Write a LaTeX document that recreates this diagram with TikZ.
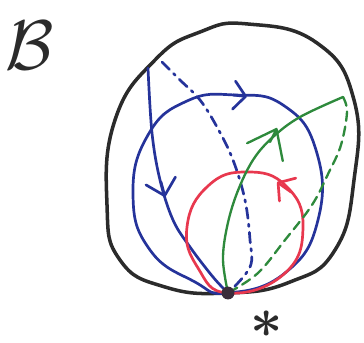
\documentclass[tikz,border=0pt]{standalone}
\usepackage{amsmath}
\usepackage{tikz}
\usetikzlibrary{arrows.meta}
\definecolor{Ink}{HTML}{2B2B2B}
\definecolor{Navy}{HTML}{25339A}
\definecolor{Rose}{HTML}{E8384E}
\definecolor{Leaf}{HTML}{2E8A3C}
\definecolor{Plum}{HTML}{3B2D3B}
\tikzset{rim/.style={draw=Ink,line width=3pt,line join=round},pen/.style={line width=2.3pt,line cap=round,line join=round},dashdot/.style={pen,dash pattern=on 9pt off 5pt on 2pt off 5pt},greendash/.style={pen,line width=2pt,dash pattern=on 8pt off 5pt},barb/.style={pen,-{Straight Barb[length=10pt,width=24pt,round]}},point/.style={circle,fill=Plum,minimum size=11pt,inner sep=0pt}}
\begin{document}
\begin{tikzpicture}[x=0.03cm,y=-0.03cm]
      \useasboundingbox (0,0) rectangle (364,343);
      \coordinate (o) at (228,293);
      \node[scale=6,text=Ink] (name) at (30,45) {$\mathcal{B}$};
      % outer boundary
      \draw[rim] plot[smooth cycle,tension=.8] coordinates{(248,24) (317,43) (354,100) (354,180) (335,250) (290,282) (o) (165,287) (120,260) (107,205) (115,120) (155,60) (200,32)};
      % blue loop and path
      \draw[pen,Navy] plot[smooth cycle,tension=.8] coordinates{(o) (285,273) (318,220) (316,150) (283,105) (235,95) (187,101) (148,135) (133,195) (150,250) (195,282)};
      \draw[pen,Navy] plot[smooth,tension=.6] coordinates{(148,68) (152,133) (160,180) (173,220) (190,247) (213,277) (o)};
      \draw[dashdot,Navy] plot[smooth,tension=.6] coordinates{(162,62) (180,80) (200,100) (217,127) (233,160) (245,200) (250,240) (250,267) (o)};
      % red loop
      \draw[pen,Rose] plot[smooth cycle,tension=.8] coordinates{(o) (284,274) (303,227) (286,186) (247,172) (208,186) (187,227) (198,268)};
      % green path
      \draw[pen,line width=2pt,Leaf] plot[smooth,tension=.6] coordinates{(o) (223,260) (227,227) (237,193) (253,160) (273,137) (300,117) (343,97)};
      \draw[greendash,Leaf] plot[smooth,tension=.6] coordinates{(343,97) (347,112) (341,145) (329,172) (312,205) (285,240) (258,273) (o)};
      % arrows
      \draw[barb,Navy] (233,95) -- (247,96.5);
      \draw[barb,Navy,-{Straight Barb[length=13pt,width=26pt,round]}] (161,182) -- (165,197);
      \draw[barb,Rose] (291,192) -- (277,182);
      \draw[barb,Leaf,line width=2pt,-{Straight Barb[length=22pt,width=34pt,round]}] (270,142) -- (277,128);
      \node[point] (base) at (o) {};
      \node[scale=4.8,text=Ink] (star) at (267,324) {$\boldsymbol{\ast}$};
    \end{tikzpicture}
\end{document}
